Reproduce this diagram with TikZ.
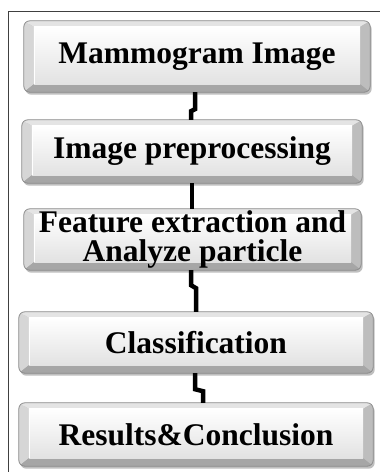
\documentclass[tikz,border=0pt]{standalone}
\usepackage{fontspec}
\setmainfont{Liberation Serif}
\usetikzlibrary{backgrounds,calc}
\definecolor{edgegray}{HTML}{8A8A8A}
\definecolor{topbev}{HTML}{E4E4E4}
\definecolor{leftbev}{HTML}{D6D6D6}
\definecolor{rightbev}{HTML}{BDBDBD}
\definecolor{botbev}{HTML}{A6A6A6}
\definecolor{facetop}{HTML}{FFFFFF}
\definecolor{facebot}{HTML}{E2E2E2}
\tikzset{
  stepbox/.style={rectangle, inner sep=0pt, align=center,
    font=\bfseries\fontsize{31.5}{28.5}\selectfont, text=black},
  conn/.style={line width=4.5pt, black, line join=miter},
  frameline/.style={line width=1pt, color=black!75}
}
\newcommand\bevelbox[1]{%
  \coordinate (o1) at (#1.north west);
  \coordinate (o2) at (#1.north east);
  \coordinate (o3) at (#1.south east);
  \coordinate (o4) at (#1.south west);
  \coordinate (i1) at ($(#1.north west)+(10,6)$);
  \coordinate (i2) at ($(#1.north east)+(-10,6)$);
  \coordinate (i3) at ($(#1.south east)+(-10,-8)$);
  \coordinate (i4) at ($(#1.south west)+(10,-8)$);
  \fill[black!25, rounded corners=6pt] ($(o1)+(1.5,2.5)$) rectangle ($(o3)+(1.5,2.5)$);
  \begin{scope}
    \clip[rounded corners=6pt] (o1) rectangle (o3);
    \fill[topbev] (o1) -- (o2) -- (i2) -- (i1) -- cycle;
    \fill[leftbev] (o1) -- (i1) -- (i4) -- (o4) -- cycle;
    \fill[rightbev] (o2) -- (o3) -- (i3) -- (i2) -- cycle;
    \fill[botbev] (o4) -- (i4) -- (i3) -- (o3) -- cycle;
    \shade[top color=facetop, bottom color=facebot] (i1) rectangle (i3);
    \draw[white, line width=0.6pt] (i1) -- (i4);
  \end{scope}
  \draw[edgegray, line width=0.8pt, rounded corners=6pt] (o1) rectangle (o3);
}
\begin{document}
\begin{tikzpicture}[x=1pt, y=-1pt]
\useasboundingbox (0,0) rectangle (380,472);
\draw[frameline] (380,11) -- (8,11) -- (8,472);

\node[stepbox, minimum width=346pt, minimum height=71pt] (b1) at (197,56.5) {Mammogram Image};
\node[stepbox, minimum width=340pt, minimum height=63pt] (b2) at (192,151.5) {Image preprocessing};
\node[stepbox, minimum width=337pt, minimum height=61pt] (b3) at (192.5,239.5) {Feature extraction and\\Analyze particle};
\node[stepbox, minimum width=354pt, minimum height=61pt] (b4) at (196,342.5) {Classification};
\node[stepbox, minimum width=354pt, minimum height=63pt] (b5) at (196,434.5) {Results\&Conclusion};

\begin{scope}[on background layer]
  \bevelbox{b1}
  \bevelbox{b2}
  \bevelbox{b3}
  \bevelbox{b4}
  \bevelbox{b5}
\end{scope}

\draw[conn] ([xshift=-2pt]b1.south) -- ++(0,17) -- ++(-4,2) -- ([xshift=-1pt]b2.north);
\draw[conn] (b2.south) -- (b2.south |- b3.north);
\draw[conn] ([xshift=-1.5pt]b3.south) -- ++(0,15) -- ++(5,3) -- (b4.north);
\draw[conn] ([xshift=-1pt]b4.south) -- ++(0,16) -- ++(8,2) -- ([xshift=7pt]b5.north);
\end{tikzpicture}
\end{document}
